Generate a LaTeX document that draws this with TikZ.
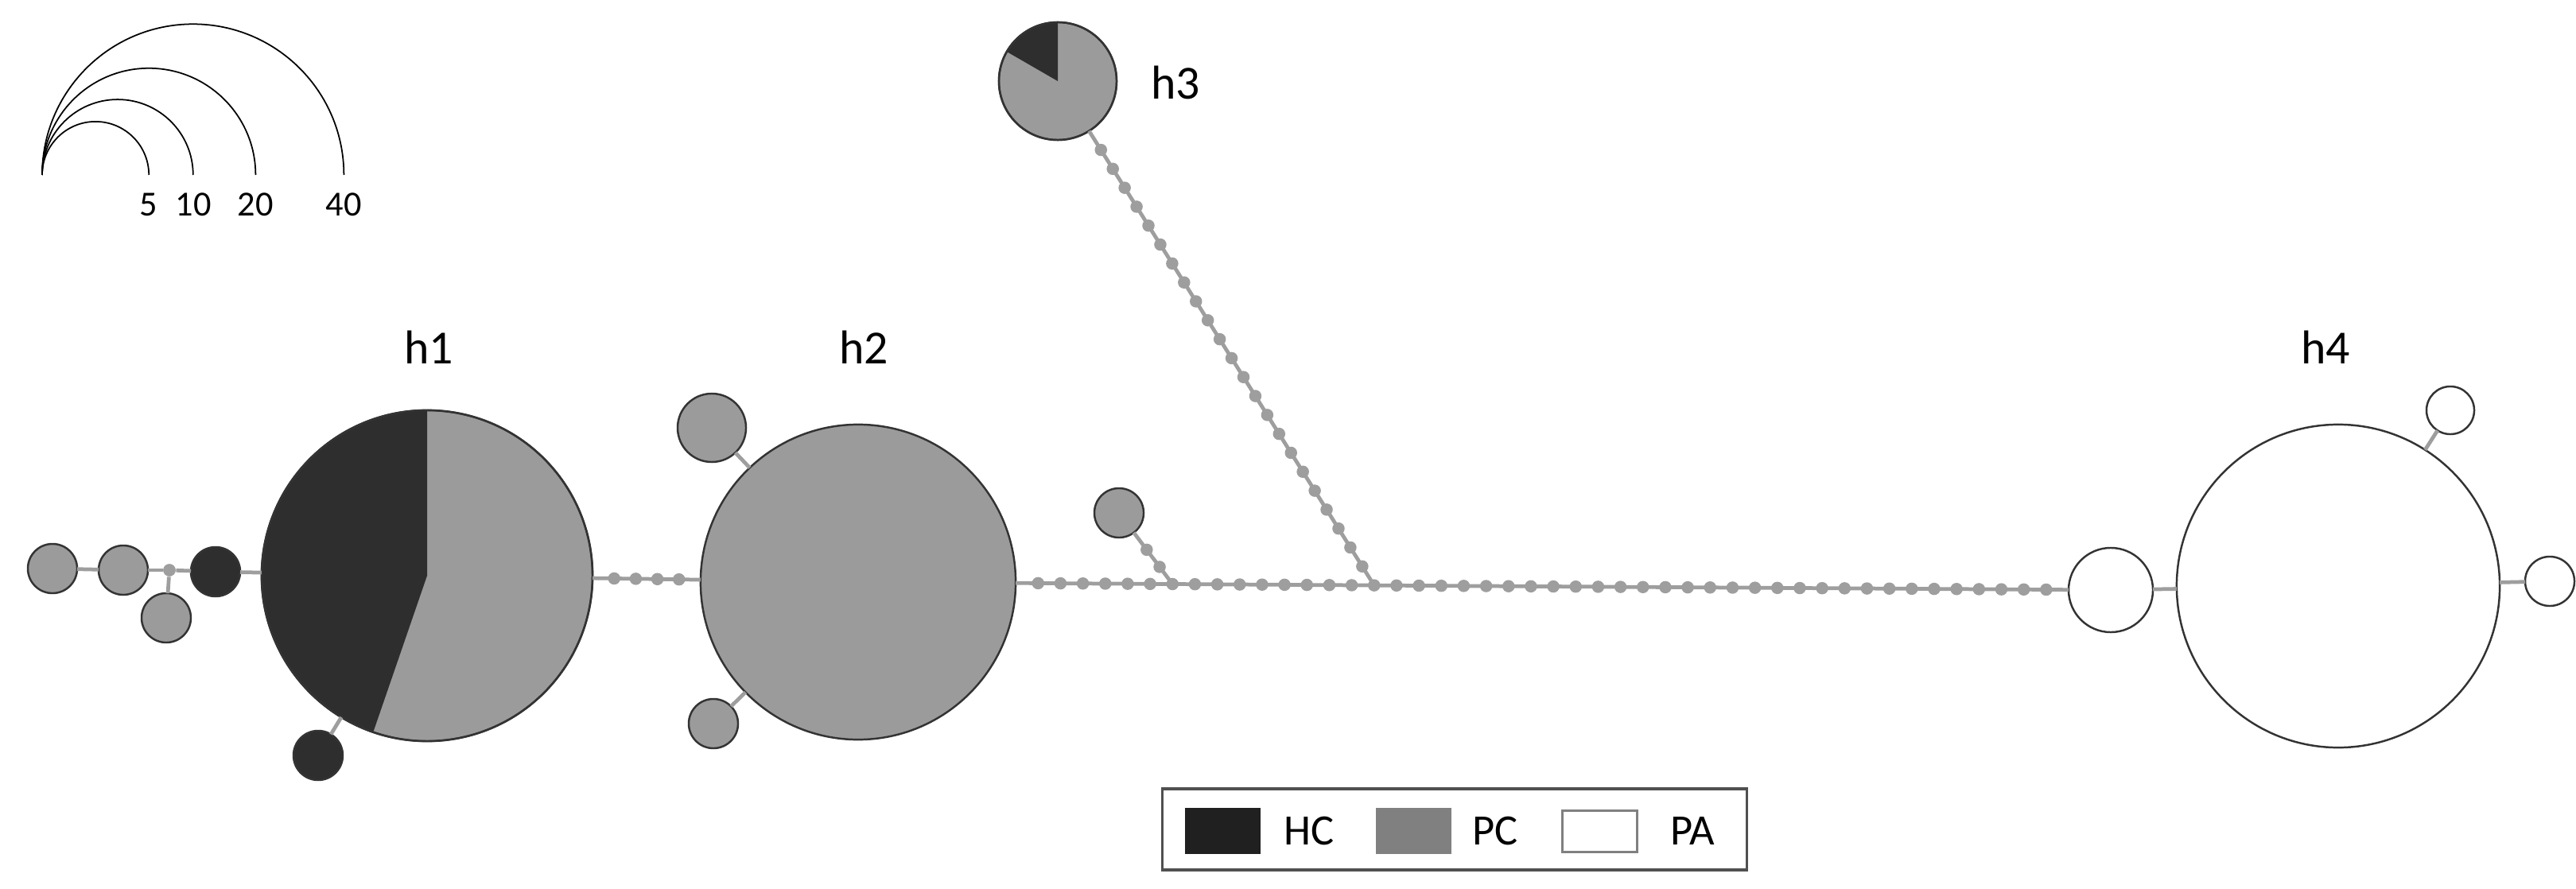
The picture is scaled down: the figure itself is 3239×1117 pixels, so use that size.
\documentclass[tikz,border=0pt]{standalone}
\usepackage{fontspec}
\setmainfont{Carlito}
\usetikzlibrary{calc}
\definecolor{hcdark}{HTML}{2E2E2E}
\definecolor{pcgrey}{HTML}{9B9B9B}
\definecolor{edgegrey}{HTML}{9E9E9E}
\definecolor{rim}{HTML}{333333}
\definecolor{legrim}{HTML}{505050}
\definecolor{legHC}{HTML}{202020}
\definecolor{legPC}{HTML}{808080}
\begin{document}
\begin{tikzpicture}[x=0.01cm,y=0.01cm,
  hap/.style={circle, draw=rim, line width=0.7pt, inner sep=0pt, outer sep=0pt},
  hcn/.style={hap, fill=hcdark},
  pcn/.style={hap, fill=pcgrey},
  pan/.style={hap, fill=white},
  edge/.style={draw=edgegrey, line width=1.35pt},
  dot/.style={circle, fill=edgegrey, inner sep=0pt, minimum size=0.155cm},
  hlabel/.style={font=\fontsize{17}{20}\selectfont, anchor=base, inner sep=0pt},
  scalelab/.style={font=\fontsize{12.6}{14}\selectfont, inner sep=0pt},
  leglab/.style={font=\fontsize{15.5}{18}\selectfont, anchor=west, inner sep=0pt},
  scalearc/.style={draw=black, line width=0.5pt}]
\useasboundingbox (0,0) rectangle (3239,1117);

% ---------- size scale ----------
\coordinate (so) at (53,897);
\draw[scalearc] (so) arc[start angle=180,end angle=0,radius=67.1];
\draw[scalearc] (so) arc[start angle=180,end angle=0,radius=94.9];
\draw[scalearc] (so) arc[start angle=180,end angle=0,radius=134.2];
\draw[scalearc] (so) arc[start angle=180,end angle=0,radius=189.7];
\node[scalelab] (l5) at (187,860) {5};
\node[scalelab] (l10) at (243,860) {10};
\node[scalelab] (l20) at (321,860) {20};
\node[scalelab] (l40) at (432,860) {40};

% ---------- haplotype nodes ----------
\node[pcn, minimum size=0.62cm] (c1) at (66,402) {};
\node[pcn, minimum size=0.62cm] (c2) at (155,400) {};
\node[dot] (m1) at (213,400) {};
\node[pcn, minimum size=0.62cm] (c3) at (209,340) {};
\node[hcn, minimum size=0.62cm] (c4) at (271,398) {};
\node[hcn, minimum size=0.62cm] (c5) at (400,167) {};

\node[pcn, minimum size=4.16cm] (h1) at (537,393) {};
\fill[hcdark] (h1.center) -- ++(90:208) arc[start angle=90,end angle=251,radius=208] -- cycle;
\draw[rim, line width=0.7pt] (h1.center) circle[radius=208];
\node[hlabel] (lh1) at (539,660) {h1};

\node[pcn, minimum size=3.96cm] (h2) at (1079,385) {};
\node[hlabel] (lh2) at (1086,660) {h2};
\node[pcn, minimum size=0.86cm] (s2) at (895,579) {};
\node[pcn, minimum size=0.62cm] (s3) at (897,207) {};
\node[pcn, minimum size=0.62cm] (s1) at (1407,472) {};

\node[pcn, minimum size=1.48cm] (h3) at (1330,1015) {};
\fill[hcdark] (h3.center) -- ++(90:74) arc[start angle=90,end angle=150,radius=74] -- cycle;
\draw[rim, line width=0.7pt] (h3.center) circle[radius=74];
\node[hlabel] (lh3) at (1478,992) {h3};

\node[pan, minimum size=1.06cm] (h4s) at (2654,375) {};
\node[pan, minimum size=4.06cm] (h4) at (2940,380) {};
\node[hlabel] (lh4) at (2924,660) {h4};
\node[pan, minimum size=0.60cm] (t1) at (3081,601) {};
\node[pan, minimum size=0.62cm] (t2) at (3206,386) {};

% ---------- connectors ----------
\draw[edge] (c1) -- (c2);
\draw[edge] (c2) -- (m1);
\draw[edge] (m1) -- (c4);
\draw[edge] (m1) -- (c3);
\draw[edge] (c4) -- (h1);
\draw[edge] (c5) -- (h1);
\draw[edge] (h1) -- (h2);
\draw[edge] (s2) -- (h2);
\draw[edge] (s3) -- (h2);
\draw[edge] (h2) -- (h4s);
\path (h2) -- (h4s) coordinate[pos=7/47] (j1) coordinate[pos=16/47] (j2);
\draw[edge] (s1) -- (j1);
\draw[edge] (h3) -- (j2);
\draw[edge] (h4s) -- (h4);
\draw[edge] (h4) -- (t1);
\draw[edge] (h4) -- (t2);

% ---------- mutation steps ----------
\foreach \k in {1,...,4} \path (h1) -- (h2) node[dot, pos=\k/5] {};
\foreach \k in {1,...,46} \path (h2) -- (h4s) node[dot, pos=\k/47] {};
\foreach \k in {1,2} \path (s1) -- (j1) node[dot, pos=\k/3] {};
\foreach \k in {1,...,23} \path (h3) -- (j2) node[dot, pos=\k/24] {};
\node[dot] at (m1) {};

% ---------- legend ----------
\node[draw=legrim, line width=0.9pt, minimum width=7.34cm, minimum height=1.02cm, inner sep=0pt] (legend) at (1829,74) {};
\node[fill=legHC, minimum width=0.95cm, minimum height=0.58cm, inner sep=0pt] (swHC) at (1537.5,72) {};
\node[leglab] (tHC) at (1614,72) {HC};
\node[fill=legPC, minimum width=0.95cm, minimum height=0.58cm, inner sep=0pt] (swPC) at (1777.5,72) {};
\node[leglab] (tPC) at (1851,72) {PC};
\node[draw=legPC, fill=white, line width=0.9pt, minimum width=0.94cm, minimum height=0.52cm, inner sep=0pt] (swPA) at (2011.5,71.5) {};
\node[leglab] (tPA) at (2100,72) {PA};
\end{tikzpicture}
\end{document}
